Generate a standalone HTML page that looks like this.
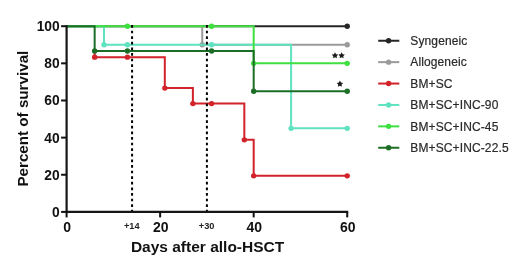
<!DOCTYPE html>
<html><head><meta charset="utf-8"><style>
html,body{margin:0;padding:0;background:#fff;}
body{width:520px;height:269px;overflow:hidden;font-family:"Liberation Sans",sans-serif;}
svg{display:block;filter:blur(0.35px);}
</style></head><body>
<svg width="520" height="269" viewBox="0 0 520 269">
<rect width="520" height="269" fill="#fff"/>
<path d="M66.60,26.20 L347.22,26.20" fill="none" stroke="#262626" stroke-width="2.0" stroke-linejoin="miter"/>
<circle cx="347.22" cy="26.20" r="2.7" fill="#262626"/>
<path d="M66.60,26.20 L202.23,26.20 L202.23,44.77 L347.22,44.77" fill="none" stroke="#9a9a9a" stroke-width="2.0" stroke-linejoin="miter"/>
<circle cx="202.23" cy="44.77" r="2.7" fill="#9a9a9a"/>
<circle cx="347.22" cy="44.77" r="2.7" fill="#9a9a9a"/>
<path d="M94.66,52.20 L94.66,57.16 L164.82,57.16 L164.82,88.09 L192.88,88.09 L192.88,103.58 L244.33,103.58 L244.33,139.85 L253.68,139.85 L253.68,175.87 L347.22,175.87" fill="none" stroke="#d2232a" stroke-width="2.0" stroke-linejoin="miter"/>
<circle cx="94.66" cy="57.16" r="2.7" fill="#d2232a"/>
<circle cx="127.40" cy="57.16" r="2.7" fill="#d2232a"/>
<circle cx="164.82" cy="88.09" r="2.7" fill="#d2232a"/>
<circle cx="192.88" cy="103.58" r="2.7" fill="#d2232a"/>
<circle cx="211.59" cy="103.58" r="2.7" fill="#d2232a"/>
<circle cx="244.33" cy="139.85" r="2.7" fill="#d2232a"/>
<circle cx="253.68" cy="175.87" r="2.7" fill="#d2232a"/>
<circle cx="347.22" cy="175.87" r="2.7" fill="#d2232a"/>
<path d="M66.60,26.20 L104.02,26.20 L104.02,44.77 L291.10,44.77 L291.10,128.34 L347.22,128.34" fill="none" stroke="#5ee2c0" stroke-width="2.0" stroke-linejoin="miter"/>
<circle cx="104.02" cy="44.77" r="2.7" fill="#5ee2c0"/>
<circle cx="127.40" cy="44.77" r="2.7" fill="#5ee2c0"/>
<circle cx="211.59" cy="44.77" r="2.7" fill="#5ee2c0"/>
<circle cx="291.10" cy="128.34" r="2.7" fill="#5ee2c0"/>
<circle cx="347.22" cy="128.34" r="2.7" fill="#5ee2c0"/>
<path d="M66.60,26.20 L253.68,26.20 L253.68,63.34 L347.22,63.34" fill="none" stroke="#3ee040" stroke-width="2.0" stroke-linejoin="miter"/>
<circle cx="127.40" cy="26.20" r="2.7" fill="#3ee040"/>
<circle cx="211.59" cy="26.20" r="2.7" fill="#3ee040"/>
<circle cx="253.68" cy="63.34" r="2.7" fill="#3ee040"/>
<circle cx="347.22" cy="63.34" r="2.7" fill="#3ee040"/>
<path d="M66.60,26.20 L94.66,26.20 L94.66,50.95 L253.68,50.95 L253.68,91.20 L347.22,91.20" fill="none" stroke="#1c6e26" stroke-width="2.0" stroke-linejoin="miter"/>
<circle cx="94.66" cy="50.95" r="2.7" fill="#1c6e26"/>
<circle cx="127.40" cy="50.95" r="2.7" fill="#1c6e26"/>
<circle cx="211.59" cy="50.95" r="2.7" fill="#1c6e26"/>
<circle cx="253.68" cy="91.20" r="2.7" fill="#1c6e26"/>
<circle cx="347.22" cy="91.20" r="2.7" fill="#1c6e26"/>
<line x1="132.08" y1="25.05" x2="132.08" y2="211.90" stroke="#000" stroke-width="2" stroke-dasharray="2.7 2.9"/>
<line x1="206.91" y1="25.05" x2="206.91" y2="211.90" stroke="#000" stroke-width="2" stroke-dasharray="2.7 2.9"/>
<path d="M66.60,25.20 V211.90 H348.22" fill="none" stroke="#161616" stroke-width="2.2"/>
<line x1="61.10" y1="211.90" x2="66.60" y2="211.90" stroke="#111" stroke-width="2"/>
<line x1="61.10" y1="174.76" x2="66.60" y2="174.76" stroke="#111" stroke-width="2"/>
<line x1="61.10" y1="137.62" x2="66.60" y2="137.62" stroke="#111" stroke-width="2"/>
<line x1="61.10" y1="100.48" x2="66.60" y2="100.48" stroke="#111" stroke-width="2"/>
<line x1="61.10" y1="63.34" x2="66.60" y2="63.34" stroke="#111" stroke-width="2"/>
<line x1="61.10" y1="26.20" x2="66.60" y2="26.20" stroke="#111" stroke-width="2"/>
<line x1="66.60" y1="211.90" x2="66.60" y2="217.40" stroke="#111" stroke-width="2"/>
<line x1="160.14" y1="211.90" x2="160.14" y2="217.40" stroke="#111" stroke-width="2"/>
<line x1="253.68" y1="211.90" x2="253.68" y2="217.40" stroke="#111" stroke-width="2"/>
<line x1="347.22" y1="211.90" x2="347.22" y2="217.40" stroke="#111" stroke-width="2"/>
<text x="59.70" y="216.90" text-anchor="end" font-size="13.8" font-weight="bold" fill="#111" font-family="Liberation Sans, sans-serif">0</text>
<text x="59.70" y="179.76" text-anchor="end" font-size="13.8" font-weight="bold" fill="#111" font-family="Liberation Sans, sans-serif">20</text>
<text x="59.70" y="142.62" text-anchor="end" font-size="13.8" font-weight="bold" fill="#111" font-family="Liberation Sans, sans-serif">40</text>
<text x="59.70" y="105.48" text-anchor="end" font-size="13.8" font-weight="bold" fill="#111" font-family="Liberation Sans, sans-serif">60</text>
<text x="59.70" y="68.34" text-anchor="end" font-size="13.8" font-weight="bold" fill="#111" font-family="Liberation Sans, sans-serif">80</text>
<text x="59.70" y="31.20" text-anchor="end" font-size="13.8" font-weight="bold" fill="#111" font-family="Liberation Sans, sans-serif">100</text>
<text x="67.20" y="232.10" text-anchor="middle" font-size="14" font-weight="bold" fill="#111" font-family="Liberation Sans, sans-serif">0</text>
<text x="160.74" y="232.10" text-anchor="middle" font-size="14" font-weight="bold" fill="#111" font-family="Liberation Sans, sans-serif">20</text>
<text x="254.28" y="232.10" text-anchor="middle" font-size="14" font-weight="bold" fill="#111" font-family="Liberation Sans, sans-serif">40</text>
<text x="347.82" y="232.10" text-anchor="middle" font-size="14" font-weight="bold" fill="#111" font-family="Liberation Sans, sans-serif">60</text>
<text x="131.78" y="228.70" text-anchor="middle" font-size="9.2" font-weight="bold" fill="#222" font-family="Liberation Sans, sans-serif">+14</text>
<text x="206.61" y="228.70" text-anchor="middle" font-size="9.2" font-weight="bold" fill="#222" font-family="Liberation Sans, sans-serif">+30</text>
<text x="130.9" y="251.6" font-size="15.5" font-weight="bold" fill="#111" font-family="Liberation Sans, sans-serif">Days after allo-HSCT</text>
<text transform="translate(28.2,186.6) rotate(-90)" x="0" y="0" font-size="15.2" font-weight="bold" fill="#111" font-family="Liberation Sans, sans-serif">Percent of survival</text>
<polygon points="335.00,52.20 336.03,54.18 338.23,54.55 336.66,56.14 337.00,58.35 335.00,57.35 333.00,58.35 333.34,56.14 331.77,54.55 333.97,54.18" fill="#1c1c1c"/>
<polygon points="341.60,52.20 342.63,54.18 344.83,54.55 343.26,56.14 343.60,58.35 341.60,57.35 339.60,58.35 339.94,56.14 338.37,54.55 340.57,54.18" fill="#1c1c1c"/>
<polygon points="339.90,80.60 340.93,82.58 343.13,82.95 341.56,84.54 341.90,86.75 339.90,85.75 337.90,86.75 338.24,84.54 336.67,82.95 338.87,82.58" fill="#1c1c1c"/>
<line x1="378.2" y1="40.75" x2="399.3" y2="40.75" stroke="#262626" stroke-width="2"/>
<circle cx="388.6" cy="40.75" r="2.7" fill="#262626"/>
<text x="410.3" y="44.95" font-size="12" letter-spacing="0.12" fill="#2a2a2a" stroke="#2a2a2a" stroke-width="0.2" font-family="Liberation Sans, sans-serif">Syngeneic</text>
<line x1="378.2" y1="62.15" x2="399.3" y2="62.15" stroke="#9a9a9a" stroke-width="2"/>
<circle cx="388.6" cy="62.15" r="2.7" fill="#9a9a9a"/>
<text x="410.3" y="66.35" font-size="12" letter-spacing="0.12" fill="#2a2a2a" stroke="#2a2a2a" stroke-width="0.2" font-family="Liberation Sans, sans-serif">Allogeneic</text>
<line x1="378.2" y1="83.55" x2="399.3" y2="83.55" stroke="#d2232a" stroke-width="2"/>
<circle cx="388.6" cy="83.55" r="2.7" fill="#d2232a"/>
<text x="410.3" y="87.75" font-size="12" letter-spacing="0.12" fill="#2a2a2a" stroke="#2a2a2a" stroke-width="0.2" font-family="Liberation Sans, sans-serif">BM+SC</text>
<line x1="378.2" y1="104.95" x2="399.3" y2="104.95" stroke="#5ee2c0" stroke-width="2"/>
<circle cx="388.6" cy="104.95" r="2.7" fill="#5ee2c0"/>
<text x="410.3" y="109.15" font-size="12" letter-spacing="0.12" fill="#2a2a2a" stroke="#2a2a2a" stroke-width="0.2" font-family="Liberation Sans, sans-serif">BM+SC+INC-90</text>
<line x1="378.2" y1="126.35" x2="399.3" y2="126.35" stroke="#3ee040" stroke-width="2"/>
<circle cx="388.6" cy="126.35" r="2.7" fill="#3ee040"/>
<text x="410.3" y="130.55" font-size="12" letter-spacing="0.12" fill="#2a2a2a" stroke="#2a2a2a" stroke-width="0.2" font-family="Liberation Sans, sans-serif">BM+SC+INC-45</text>
<line x1="378.2" y1="147.75" x2="399.3" y2="147.75" stroke="#1c6e26" stroke-width="2"/>
<circle cx="388.6" cy="147.75" r="2.7" fill="#1c6e26"/>
<text x="410.3" y="151.95" font-size="12" letter-spacing="0.12" fill="#2a2a2a" stroke="#2a2a2a" stroke-width="0.2" font-family="Liberation Sans, sans-serif">BM+SC+INC-22.5</text>
</svg>
</body></html>
